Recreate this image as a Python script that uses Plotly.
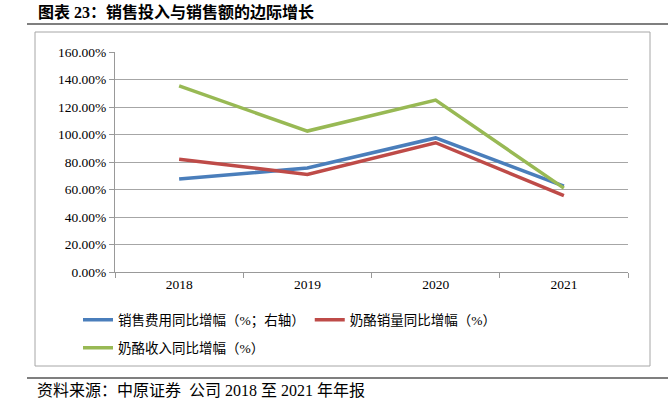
import plotly.graph_objects as go

years = ["2018", "2019", "2020", "2021"]
sales_expense = [0.676, 0.756, 0.975, 0.625]
volume = [0.82, 0.71, 0.94, 0.555]
revenue = [1.353, 1.025, 1.25, 0.61]

names = ["销售费用同比增幅（%；右轴）", "奶酪销量同比增幅（%）", "奶酪收入同比增幅（%）"]
colors = ["#4a7ebb", "#be4b48", "#98b954"]
series = [sales_expense, volume, revenue]
legends = ["legend", "legend", "legend2"]

font_fam = "Liberation Serif, Noto Sans CJK SC"

fig = go.Figure()
for n, c, s, lg in zip(names, colors, series, legends):
    fig.add_trace(go.Scatter(x=years, y=s, name=n, mode="lines", legend=lg,
                             line=dict(color=c, width=3.5)))

W, H = 668, 403
L, R, T, B = 115, 628, 52, 272
def px(x): return (x - L) / (R - L)
def py(y): return (B - y) / (B - T)

fig.update_layout(
    width=W, height=H,
    margin=dict(l=L, r=W - R, t=T, b=H - B),
    paper_bgcolor="white", plot_bgcolor="white",
    font=dict(family=font_fam, size=12, color="#222"),
    showlegend=True,
    legend=dict(orientation="h", x=px(78), y=py(320), xanchor="left", yanchor="middle",
                font=dict(size=13.5, family=font_fam, color="black"), tracegroupgap=0,
                itemwidth=30, bgcolor="rgba(0,0,0,0)"),
    legend2=dict(orientation="h", x=px(78), y=py(348), xanchor="left", yanchor="middle",
                 font=dict(size=13.5, family=font_fam, color="black"), tracegroupgap=0,
                 itemwidth=30, bgcolor="rgba(0,0,0,0)"),
    xaxis=dict(type="category", range=[-0.5, 3.5], showline=True, linecolor="#999", linewidth=1,
               ticks="outside", tickson="boundaries", ticklen=5, tickcolor="#999",
               showgrid=False, tickfont=dict(size=13.5, family=font_fam, color="black")),
    yaxis=dict(range=[0, 1.6], dtick=0.2, tickformat=".2%", showline=True,
               linecolor="#999", ticks="outside", ticklen=5, tickcolor="#999",
               showgrid=True, gridcolor="#a6a6a6", gridwidth=1, zeroline=False,
               tickfont=dict(size=13.5, family=font_fam, color="black")),
)

shapes = [
    dict(type="line", xref="paper", yref="paper", x0=px(27), x1=px(668), y0=py(24), y1=py(24),
         line=dict(color="black", width=1.2)),
    dict(type="rect", xref="paper", yref="paper", x0=px(35), x1=px(650), y0=py(32), y1=py(366),
         line=dict(color="#a6a6a6", width=1)),
    dict(type="line", xref="paper", yref="paper", x0=px(27), x1=px(668), y0=py(378), y1=py(378),
         line=dict(color="black", width=1.2)),
]
fig.update_layout(shapes=shapes)

fig.add_annotation(text="<b>图表 23：销售投入与销售额的边际增长</b>", xref="paper", yref="paper",
                   x=px(36), y=py(12), xanchor="left", yanchor="middle", showarrow=False,
                   font=dict(size=16, family=font_fam, color="black"))
fig.add_annotation(text="资料来源：中原证券  公司 2018 至 2021 年年报", xref="paper", yref="paper",
                   x=px(35), y=py(390), xanchor="left", yanchor="middle", showarrow=False,
                   font=dict(size=16, family=font_fam, color="black"))

fig.write_html("out.html", config={"displayModeBar": False},
               post_script="document.body.style.margin='0';document.body.style.padding='0';")
